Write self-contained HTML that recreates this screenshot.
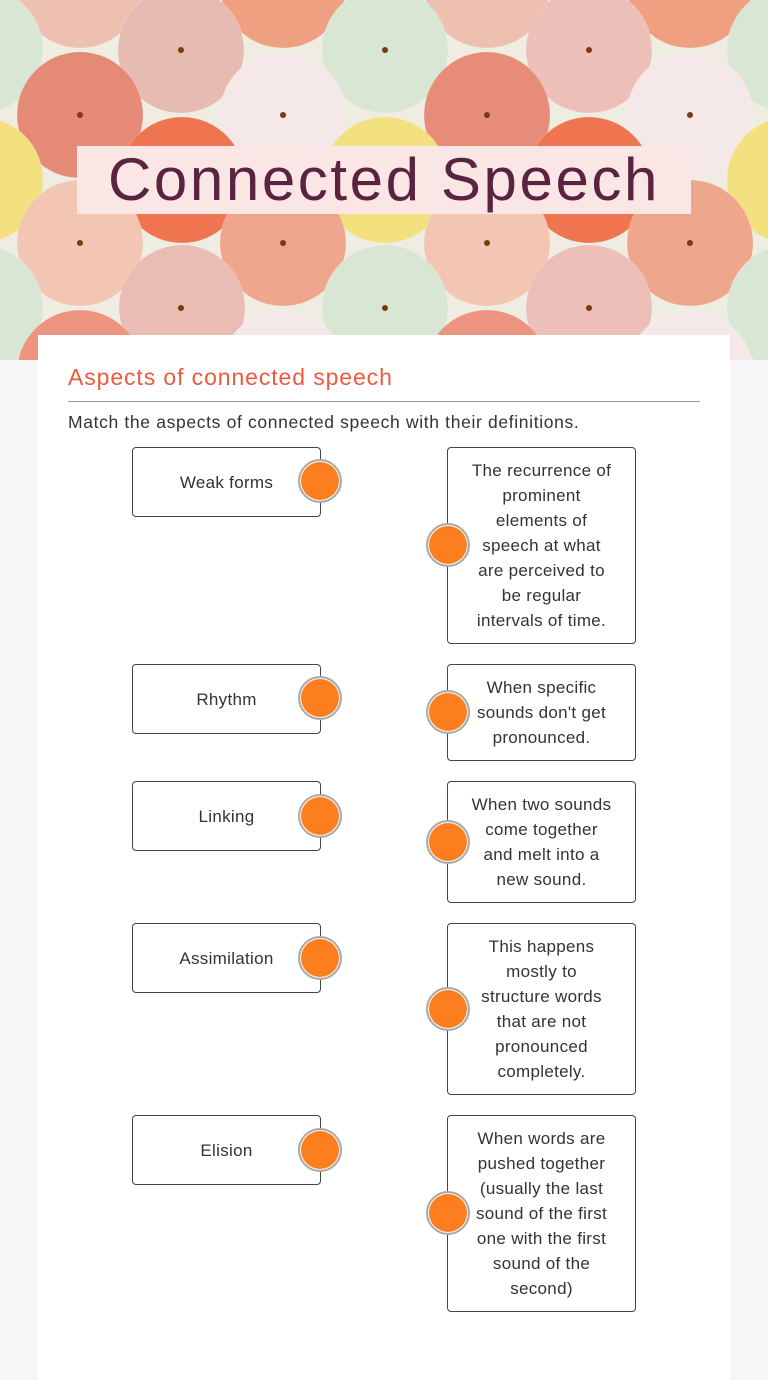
<!DOCTYPE html>
<html><head><meta charset="utf-8"><style>
body{margin:0;width:768px;height:1380px;background:#f6f6f8;position:relative;overflow:hidden;font-family:"Liberation Sans",sans-serif;color:#333}
#hdr{position:absolute;left:0;top:0;width:768px;height:360px}
.title{position:absolute;left:77px;top:146px;width:614px;height:68px;background:#fbe6e6;color:#5a2340;font-size:60px;line-height:68px;text-align:center;letter-spacing:2.6px}
.card{position:absolute;left:38px;top:335px;width:692px;height:1045px;background:#fff}
h2{position:absolute;left:68px;top:364px;margin:0;font-weight:normal;font-size:23px;color:#ec5b3e;letter-spacing:0.9px}
.rule{position:absolute;left:68px;top:401px;width:632px;height:1px;background:#999}
.ins{position:absolute;left:68px;top:412px;font-size:17.5px;letter-spacing:0.65px}
.box{position:absolute;border:1px solid #444;border-radius:4px;background:#fff;box-sizing:border-box;display:flex;align-items:center;justify-content:center;text-align:center;font-size:17px;line-height:25px;letter-spacing:0.3px;white-space:nowrap}
.l{left:132px;width:189px;height:70px}
.r{left:447px;width:189px}
.dot{position:absolute;width:44px;height:44px;border-radius:50%;background:#fd7e1f;border:2px solid #aaa;box-sizing:border-box;box-shadow:inset 0 0 0 1px #fff}
</style></head><body>
<svg id="hdr" viewBox="0 0 768 360">
<rect width="768" height="360" fill="#efece2"/>
<g stroke="#fff" stroke-opacity="0.15">
<circle cx="80" cy="-15" r="63" fill="#eec0b0"/><circle cx="283" cy="-15" r="63" fill="#eea080"/><circle cx="487" cy="-15" r="63" fill="#eec0b0"/><circle cx="690" cy="-15" r="63" fill="#eea080"/>
<circle cx="-20" cy="50" r="63" fill="#d9e6d4"/><circle cx="181" cy="50" r="63" fill="#e6bcb2"/><circle cx="385" cy="50" r="63" fill="#d9e6d4"/><circle cx="589" cy="50" r="63" fill="#ecc0b8"/><circle cx="790" cy="50" r="63" fill="#d9e6d4"/>
<circle cx="80" cy="115" r="63" fill="#e58a76"/><circle cx="283" cy="115" r="63" fill="#f4e8e8"/><circle cx="487" cy="115" r="63" fill="#e88c7a"/><circle cx="690" cy="115" r="63" fill="#f4e8e8"/>
<circle cx="-20" cy="180" r="63" fill="#f3e07e"/><circle cx="182" cy="180" r="63" fill="#ef7550"/><circle cx="385" cy="180" r="63" fill="#f3e07e"/><circle cx="589" cy="180" r="63" fill="#ef7550"/><circle cx="790" cy="180" r="63" fill="#f3e07e"/>
<circle cx="80" cy="243" r="63" fill="#f2c6b2"/><circle cx="283" cy="243" r="63" fill="#eea68c"/><circle cx="487" cy="243" r="63" fill="#f2c6b2"/><circle cx="690" cy="243" r="63" fill="#eea68c"/>
<circle cx="-20" cy="308" r="63" fill="#d9e6d4"/><circle cx="182" cy="308" r="63" fill="#e9bcb4"/><circle cx="385" cy="308" r="63" fill="#d9e6d4"/><circle cx="589" cy="308" r="63" fill="#ecc0b8"/><circle cx="790" cy="308" r="63" fill="#d9e6d4"/>
<circle cx="80" cy="373" r="63" fill="#ec9480"/><circle cx="283" cy="373" r="63" fill="#f4e8e8"/><circle cx="487" cy="373" r="63" fill="#ec9480"/><circle cx="690" cy="373" r="63" fill="#f4e8e8"/>
</g>
<g fill="#7a3a10">
<circle cx="181" cy="50" r="3"/><circle cx="385" cy="50" r="3"/><circle cx="589" cy="50" r="3"/>
<circle cx="80" cy="115" r="3"/><circle cx="283" cy="115" r="3"/><circle cx="487" cy="115" r="3"/><circle cx="690" cy="115" r="3"/>
<circle cx="80" cy="243" r="3"/><circle cx="283" cy="243" r="3"/><circle cx="487" cy="243" r="3"/><circle cx="690" cy="243" r="3"/>
<circle cx="181" cy="308" r="3"/><circle cx="385" cy="308" r="3"/><circle cx="589" cy="308" r="3"/>
</g>
</svg>
<div class="title">Connected Speech</div>
<div class="card"></div>
<h2>Aspects of connected speech</h2>
<div class="rule"></div>
<div class="ins">Match the aspects of connected speech with their definitions.</div>

<div class="box l" style="top:447px">Weak forms</div>
<div class="box l" style="top:664px">Rhythm</div>
<div class="box l" style="top:781px">Linking</div>
<div class="box l" style="top:923px">Assimilation</div>
<div class="box l" style="top:1115px">Elision</div>

<div class="box r" style="top:447px;height:197px">The recurrence of<br>prominent<br>elements of<br>speech at what<br>are perceived to<br>be regular<br>intervals of time.</div>
<div class="box r" style="top:664px;height:97px">When specific<br>sounds don't get<br>pronounced.</div>
<div class="box r" style="top:781px;height:122px">When two sounds<br>come together<br>and melt into a<br>new sound.</div>
<div class="box r" style="top:923px;height:172px">This happens<br>mostly to<br>structure words<br>that are not<br>pronounced<br>completely.</div>
<div class="box r" style="top:1115px;height:197px">When words are<br>pushed together<br>(usually the last<br>sound of the first<br>one with the first<br>sound of the<br>second)</div>

<div class="dot" style="left:298px;top:459px"></div>
<div class="dot" style="left:298px;top:676px"></div>
<div class="dot" style="left:298px;top:794px"></div>
<div class="dot" style="left:298px;top:936px"></div>
<div class="dot" style="left:298px;top:1128px"></div>
<div class="dot" style="left:426px;top:523px"></div>
<div class="dot" style="left:426px;top:690px"></div>
<div class="dot" style="left:426px;top:820px"></div>
<div class="dot" style="left:426px;top:987px"></div>
<div class="dot" style="left:426px;top:1191px"></div>
</body></html>
